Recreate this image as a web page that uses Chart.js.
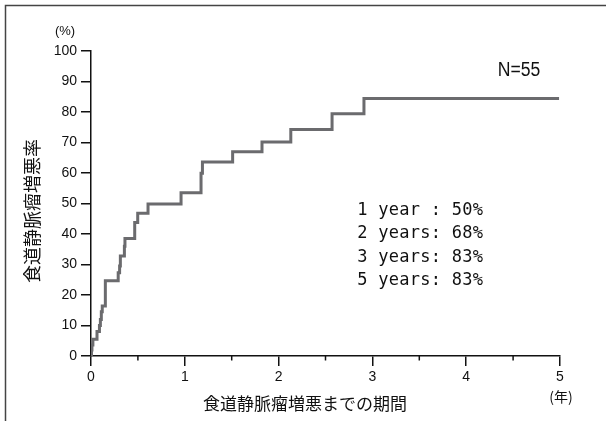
<!DOCTYPE html>
<html><head><meta charset="utf-8">
<script src="https://cdn.jsdelivr.net/npm/chart.js@4/dist/chart.umd.min.js"></script>
<style>html,body{margin:0;padding:0;background:#fff}canvas{display:block}</style>
</head><body>
<canvas id="c" width="606" height="421" style="width:606px;height:421px"></canvas>
<script>
// Data (time in years, cumulative worsening rate in %)
const eventTimes = [0, 0.005, 0.01, 0.02, 0.064, 0.09, 0.10, 0.11, 0.12, 0.153, 0.29, 0.305, 0.313, 0.356, 0.362, 0.466, 0.498, 0.608, 0.96, 1.173, 1.188, 1.51, 1.823, 2.13, 2.57, 2.91, 4.99];
const worseningRate = [0, 2.0, 3.6, 5.5, 8.0, 10.0, 12.0, 14.5, 16.4, 24.7, 27.3, 29.5, 32.8, 36.0, 38.5, 43.8, 46.8, 49.8, 53.5, 59.9, 63.6, 67.0, 70.2, 74.3, 79.4, 84.4, 84.4];
const xTicks = [0, 1, 2, 3, 4, 5];
const xMinorTicks = [0.5, 1.5, 2.5, 3.5, 4.5];
const yTicks = [0, 10, 20, 30, 40, 50, 60, 70, 80, 90, 100];
const summaryLines = ["1 year : 50%", "2 years: 68%", "3 years: 83%", "5 years: 83%"];
const nLabel = "N=55";
const xTitle = "食道静脈瘤増悪までの期間";
const yTitle = "食道静脈瘤増悪率";
const xUnit = "(年)";
const yUnit = "(%)";

const AXIS = '#111';
const CURVE = '#6b6b6e';

const points = eventTimes.map((t, i) => ({x: t, y: worseningRate[i]}));

function narrowText(ctx, text, x, y, sx) {
  ctx.save();
  ctx.translate(x, y);
  ctx.scale(sx, 1);
  ctx.fillText(text, 0, 0);
  ctx.restore();
}

const decor = {
  id: 'decor',
  beforeDraw(chart) {
    const ctx = chart.ctx;
    ctx.save();
    ctx.fillStyle = '#fff';
    ctx.fillRect(0, 0, chart.width, chart.height);
    ctx.strokeStyle = '#444';
    ctx.lineWidth = 1.5;
    ctx.beginPath();
    ctx.moveTo(5.5, chart.height);
    ctx.lineTo(5.5, 5.5);
    ctx.lineTo(chart.width, 5.5);
    ctx.stroke();
    ctx.restore();
  },
  afterDraw(chart) {
    const ctx = chart.ctx;
    const xs = chart.scales.x, ys = chart.scales.y;
    ctx.save();
    // minor ticks
    ctx.strokeStyle = AXIS;
    ctx.lineWidth = 1.5;
    const y0 = ys.getPixelForValue(0);
    xMinorTicks.forEach(v => {
      const px = xs.getPixelForValue(v);
      ctx.beginPath();
      ctx.moveTo(px, y0);
      ctx.lineTo(px, y0 + 4.5);
      ctx.stroke();
    });
    ctx.fillStyle = AXIS;
    ctx.textAlign = 'center';
    ctx.textBaseline = 'middle';
    // N label
    ctx.font = '20px "Liberation Sans", sans-serif';
    narrowText(ctx, nLabel, 519, 70, 0.88);
    // units
    ctx.font = '13px "Liberation Sans", sans-serif';
    ctx.fillText(yUnit, 65, 31);
    ctx.font = '14px "Noto Sans CJK JP", sans-serif';
    ctx.fillText(xUnit, 561, 397);
    // x title
    ctx.font = '17px "Noto Sans CJK JP", sans-serif';
    ctx.fillText(xTitle, 305, 404);
    // y title rotated
    ctx.save();
    ctx.translate(32, 211);
    ctx.rotate(-Math.PI / 2);
    ctx.font = '18px "Noto Sans CJK JP", sans-serif';
    ctx.fillText(yTitle, 0, 0);
    ctx.restore();
    // summary: characters in fixed-pitch cells
    ctx.font = '17px "DejaVu Sans Mono", monospace';
    ctx.textBaseline = 'alphabetic';
    const baselines = [214.5, 238, 261.5, 285];
    const pitch = 10.5, x0 = 357;
    summaryLines.forEach((s, i) => {
      [...s].forEach((ch, k) => {
        if (ch !== ' ') ctx.fillText(ch, x0 + pitch * k + pitch / 2, baselines[i]);
      });
    });
    ctx.restore();
  }
};

new Chart(document.getElementById('c'), {
  type: 'line',
  data: {
    datasets: [{
      data: points,
      stepped: true,
      borderColor: CURVE,
      borderWidth: 3,
      pointRadius: 0,
      fill: false,
      tension: 0
    }]
  },
  options: {
    responsive: false,
    animation: false,
    layout: {padding: {left: 0, top: 51, right: 46, bottom: 0}},
    plugins: {legend: {display: false}, tooltip: {enabled: false}},
    scales: {
      x: {
        type: 'linear', min: 0, max: 5,
        afterFit(s) { s.height = 65; },
        afterBuildTicks(s) { s.ticks = xTicks.map(v => ({value: v})); },
        ticks: {stepSize: 1, padding: 3, maxRotation: 0, autoSkip: false, color: AXIS,
                font: {family: '"Liberation Sans", sans-serif', size: 14}},
        grid: {drawOnChartArea: false, drawTicks: true, tickLength: 10, color: AXIS, lineWidth: 1.5},
        border: {color: AXIS, width: 1.5}
      },
      y: {
        type: 'linear', min: 0, max: 100,
        afterFit(s) { s.width = 91; },
        afterBuildTicks(s) { s.ticks = yTicks.map(v => ({value: v})); },
        ticks: {stepSize: 10, padding: 4, color: AXIS,
                font: {family: '"Liberation Sans", sans-serif', size: 14}},
        grid: {drawOnChartArea: false, drawTicks: true, tickLength: 10, color: AXIS, lineWidth: 1.5},
        border: {color: AXIS, width: 1.5}
      }
    }
  },
  plugins: [decor]
});
</script>
</body></html>
